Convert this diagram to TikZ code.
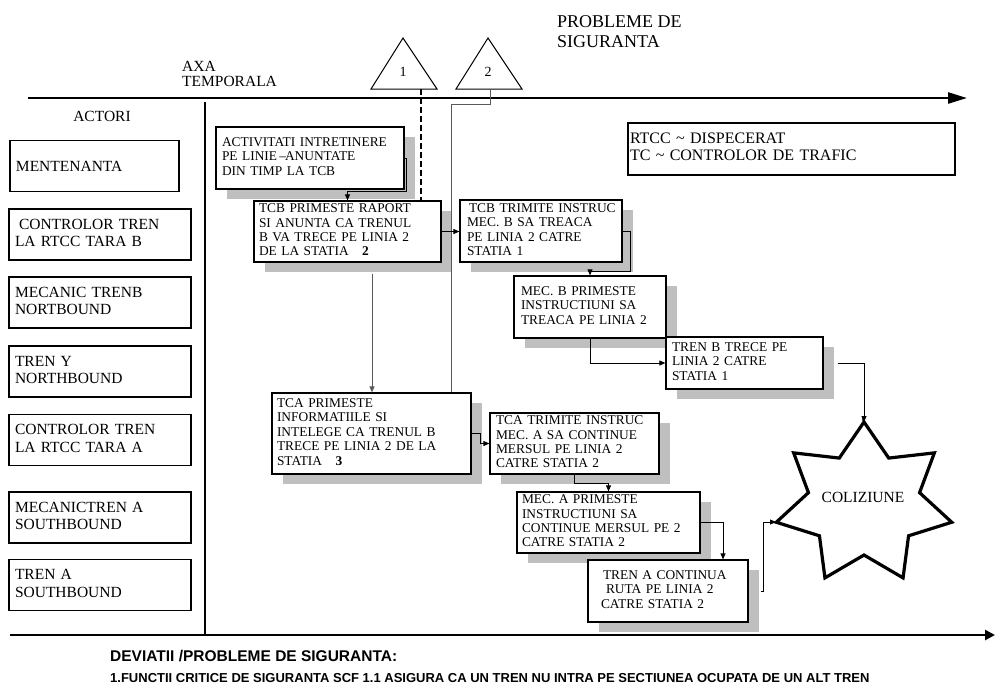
\documentclass[tikz,border=0pt]{standalone}
\usepackage{fontspec}
\setmainfont{Liberation Serif}
\setsansfont{Liberation Sans}
\usetikzlibrary{arrows.meta,shadows}
\newcommand\blines[1]{\begin{tabular}{@{}l@{}}#1\end{tabular}}
\begin{document}
\begin{tikzpicture}[x=1pt,y=-1pt,
  every node/.style={inner sep=0pt},
  fbox/.style={draw, line width=1.2pt, fill=white, align=left, font=\fontsize{13.4}{14.4}\selectfont},
  shd/.style={drop shadow={shadow xshift=11pt, shadow yshift=-10pt, fill=black!25, opacity=1}},
  abox/.style={draw, line width=1.2pt, fill=white, align=left, font=\fontsize{15.5}{17.5}\selectfont, minimum width=182pt, minimum height=51pt, text width=170pt, inner xsep=6pt},
  conn/.style={line width=0.8pt, -{Triangle[length=6pt,width=5pt]}},
  gconn/.style={line width=0.8pt, draw=black!65},
  axis/.style={line width=2.5pt},
  tri/.style={line width=1pt},
  starline/.style={line width=3.2pt, line join=miter}]
\useasboundingbox (0,0) rectangle (995,689);
\fill[white] (0,0) rectangle (995,689);

% axes and separator
\draw[axis, -{Triangle[length=19pt,width=11pt]}] (28,98) -- (967,98);
\draw[axis, -{Triangle[length=10pt,width=10pt]}] (10,635) -- (995,635);
\draw[axis] (205,102) -- (205,635);

% titles
\node[anchor=west, align=left, font=\fontsize{15.5}{15}\selectfont] (axa) at (182,73.5) {AXA\\TEMPORALA};
\node[anchor=west, align=left, font=\fontsize{18}{20}\selectfont] (prob) at (557,32) {PROBLEME DE\\SIGURANTA};
\node[font=\fontsize{15.5}{17}\selectfont] (actori) at (102,116) {ACTORI};

% triangles
\draw[tri] (371,89) -- (403,38) -- (437,89) -- cycle;
\node[font=\fontsize{14}{14}\selectfont] (n1) at (403,72) {1};
\draw[tri] (456,89) -- (488,38) -- (522,89) -- cycle;
\node[font=\fontsize{14}{14}\selectfont] (n2) at (488,72) {2};
\coordinate (t1) at (421,89);
\coordinate (t2) at (490,89);

% legend
\node[draw, line width=1.2pt, minimum width=327pt, minimum height=52pt, text width=323pt, inner xsep=2pt, align=left, font=\fontsize{16}{17}\selectfont] (rtcc) at (791.5,149) {\blines{RTCC \textasciitilde{} DISPECERAT\\TC \textasciitilde{} CONTROLOR DE TRAFIC}};

% actors
\node[abox, minimum width=169pt, text width=157pt] (a1) at (94.5,166) {MENTENANTA};
\node[abox] (a2) at (100,234.5) {\blines{\hspace{4pt}CONTROLOR TREN\\LA RTCC TARA B}};
\node[abox] (a3) at (100,302.5) {\blines{MECANIC TRENB\\NORTBOUND}};
\node[abox] (a4) at (100,371.5) {\blines{TREN Y\\NORTHBOUND}};
\node[abox] (a5) at (100,440) {\blines{CONTROLOR TREN\\LA RTCC TARA A}};
\node[abox] (a6) at (100,517.5) {\blines{MECANICTREN A\\SOUTHBOUND}};
\node[abox] (a7) at (100,585) {\blines{TREN A\\SOUTHBOUND}};

% process boxes
\node[fbox, shd, minimum width=188pt, minimum height=62pt, inner xsep=6pt, text width=176pt] (act) at (310,158)
  {\blines{ACTIVITATI INTRETINERE\\PE LINIE\,--\kern-1pt ANUNTATE\\DIN TIMP LA TCB}};
\node[fbox, shd, minimum width=187pt, minimum height=61pt, inner xsep=5pt, text width=177pt] (tcbp) at (347.5,231.5)
  {\blines{TCB PRIMESTE RAPORT\\SI ANUNTA CA TRENUL\\B VA TRECE PE LINIA 2\\DE LA STATIA \hspace{9pt}\textbf{2}}};
\node[fbox, shd, minimum width=162pt, minimum height=62pt, inner xsep=7pt, text width=148pt] (tcbt) at (541,231)
  {\blines{\hspace{2pt}TCB TRIMITE INSTRUC\\MEC. B SA TREACA\\PE LINIA 2 CATRE\\STATIA 1}};
\node[fbox, shd, minimum width=152pt, minimum height=62pt, inner xsep=7pt, text width=138pt] (mecb) at (590,307)
  {\blines{MEC. B PRIMESTE\\INSTRUCTIUNI SA\\TREACA PE LINIA 2}};
\node[fbox, shd, minimum width=157pt, minimum height=52pt, inner xsep=6pt, text width=145pt] (trenb) at (744.5,363)
  {\blines{TREN B TRECE PE\\LINIA 2 CATRE\\STATIA 1}};
\node[fbox, shd, minimum width=199pt, minimum height=81pt, inner xsep=5pt, text width=189pt] (tcap) at (371.5,433.5)
  {\blines{TCA PRIMESTE\\INFORMATIILE SI\\INTELEGE CA TRENUL B\\TRECE PE LINIA 2 DE LA\\STATIA \hspace{9pt}\textbf{3}}};
\node[fbox, shd, minimum width=169pt, minimum height=61pt, inner xsep=6pt, text width=157pt] (tcat) at (574.5,443.5)
  {\blines{TCA TRIMITE INSTRUC\\MEC. A SA CONTINUE\\MERSUL PE LINIA 2\\CATRE STATIA 2}};
\node[fbox, shd, minimum width=183pt, minimum height=61pt, inner xsep=5pt, text width=173pt] (meca) at (608.5,522.5)
  {\blines{MEC. A PRIMESTE\\INSTRUCTIUNI SA\\CONTINUE MERSUL PE 2\\CATRE STATIA 2}};
\node[fbox, shd, minimum width=160pt, minimum height=62pt, inner xsep=13pt, text width=134pt] (trena) at (668,591)
  {\blines{\hspace{2pt}TREN A CONTINUA\\\hspace{5pt}RUTA PE LINIA 2\\CATRE STATIA 2}};

% collision star
\draw[starline, shift={(864,504)}] (-90:90 and 82)
  \foreach \k in {0,...,6} { -- ({-64.2857+51.4286*\k}:57 and 51) -- ({-38.5714+51.4286*\k}:90 and 82) } -- cycle;
\node[font=\fontsize{15.5}{16}\selectfont] (col) at (863,497) {COLIZIUNE};
\coordinate (startop) at (864,422);
\coordinate (starleft) at (776,522);

% connectors
\draw[line width=2.4pt, dash pattern=on 6pt off 3pt] (t1) -- (t1 |- tcbp.north);
\draw[gconn] (t2) -- ++(0,15) -| ([xshift=79.5pt]tcap.north);
\draw[conn] (act.east) -- ++(2,0) -- ++(0,33) -| (tcbp.north);
\draw[conn] (tcbp.east) -- (tcbp.east -| tcbt.west);
\draw[conn] (tcbt.east) -- ++(8,0) -- ++(0,40) -| (mecb.north);
\draw[conn] (mecb.south) |- (trenb.west);
\draw[conn] ([xshift=14pt]trenb.east) -| (startop);
\draw[conn, draw=black!65] ([xshift=24.5pt,yshift=-11pt]tcbp.south) coordinate (c6s) -- (c6s |- tcap.north);
\draw[conn] (tcap.east) -- ++(9,0) |- (tcat.west);
\draw[conn] (tcat.south) -- ++(0,9) -| (meca.north);
\draw[conn] (meca.east) -| ([xshift=55pt]trena.north);
\draw[conn] ([xshift=12pt]trena.east) -- ++(3,0) |- (starleft);

% bottom notes
\node[anchor=west, font=\sffamily\bfseries\fontsize{15.5}{16}\selectfont] (dev) at (110,656) {DEVIATII /PROBLEME DE SIGURANTA:};
\node[anchor=west, font=\sffamily\bfseries\fontsize{13}{13}\selectfont] (scf) at (110,678) {1.FUNCTII CRITICE DE SIGURANTA SCF 1.1 ASIGURA CA UN TREN NU INTRA PE SECTIUNEA OCUPATA DE UN ALT TREN};
\end{tikzpicture}
\end{document}
